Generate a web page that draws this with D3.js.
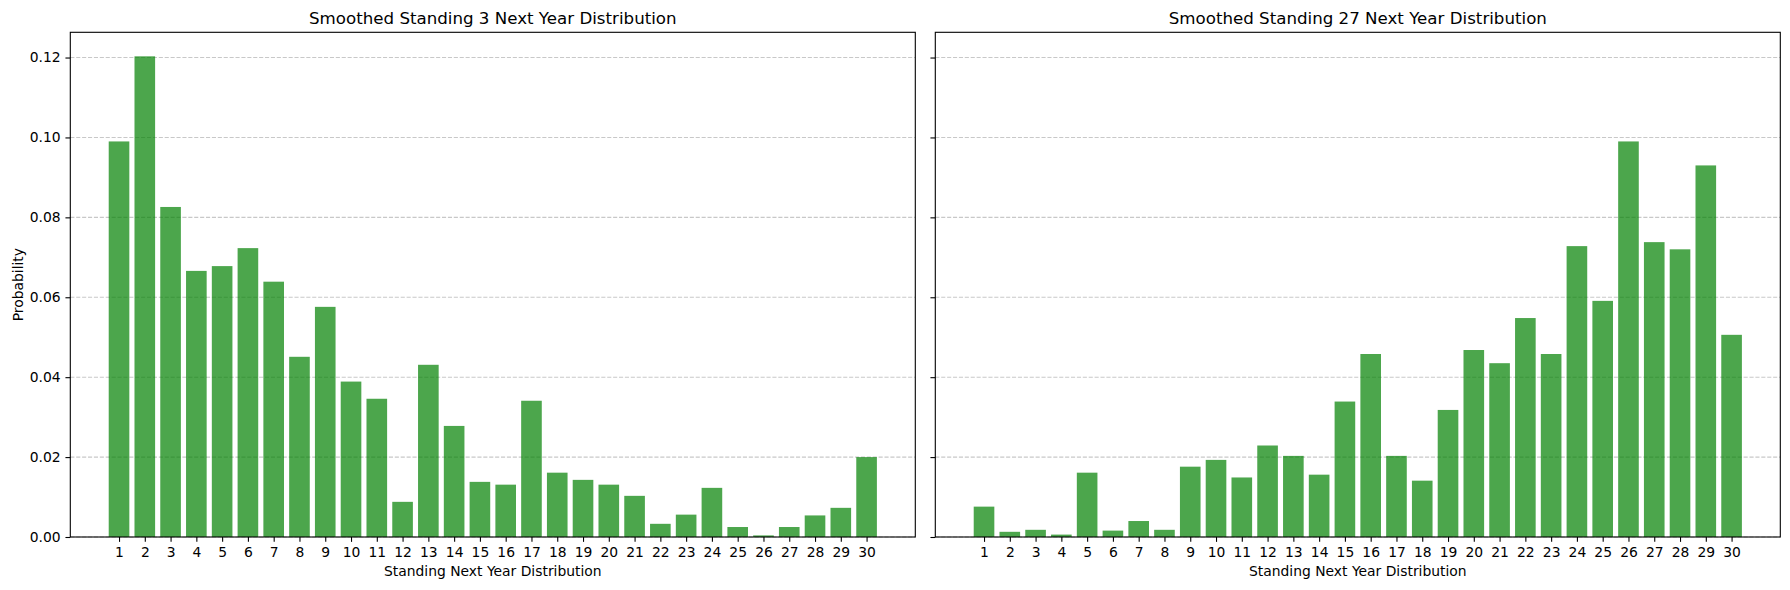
<!DOCTYPE html>
<html>
<head>
<meta charset="utf-8">
<script src="https://cdn.jsdelivr.net/npm/d3@7"></script>
<style>
  html, body { margin: 0; padding: 0; background: #fff; }
  svg { display: block; font-family: "DejaVu Sans", sans-serif; }
</style>
</head>
<body>
<svg id="chart" width="1790" height="590"></svg>
<script>
// ---- data ----
const standings = d3.range(1, 31);
const yTicks = [0.00, 0.02, 0.04, 0.06, 0.08, 0.10, 0.12];
const titles = ["Smoothed Standing 3 Next Year Distribution", "Smoothed Standing 27 Next Year Distribution"];
const standing3 = [0.0990, 0.1203, 0.0826, 0.0666, 0.0678, 0.0723, 0.0639, 0.0451, 0.0576, 0.0389,
                   0.0346, 0.0088, 0.0431, 0.0278, 0.0138, 0.0131, 0.0341, 0.0161, 0.0143, 0.0131,
                   0.0103, 0.0033, 0.0056, 0.0123, 0.0025, 0.0004, 0.0025, 0.0054, 0.0073, 0.0200];
const standing27 = [0.0076, 0.0013, 0.0018, 0.0006, 0.0161, 0.0016, 0.0040, 0.0018, 0.0176, 0.0193,
                    0.0149, 0.0229, 0.0203, 0.0156, 0.0339, 0.0458, 0.0203, 0.0141, 0.0318, 0.0468,
                    0.0435, 0.0548, 0.0458, 0.0728, 0.0591, 0.0990, 0.0738, 0.0720, 0.0930, 0.0506];
const xLabel = "Standing Next Year Distribution";
const yLabel = "Probability";

(function () {
  // ---- layout ----
  const svg = d3.select("#chart");
  const panels = [
    { left: 70.3, right: 915.3, values: standing3, title: titles[0], showY: true },
    { left: 935.3, right: 1780.3, values: standing27, title: titles[1], showY: false }
  ];
  const plotTop = 32.3, plotBottom = 537;
  const barW = 0.8;
  const n = standings.length;
  const xPad = (n - 1 + barW) * 0.05;
  const xDomain = [1 - barW / 2 - xPad, n + barW / 2 + xPad];
  const yMax = d3.max(standing3.concat(standing27)) * 1.05;
  const y = d3.scaleLinear().domain([0, yMax]).range([plotBottom, plotTop]);

  const tickFont = "13.89px";
  const tickLen = 4.86;

  panels.forEach(p => {
    const x = d3.scaleLinear().domain(xDomain).range([p.left, p.right]);
    const g = svg.append("g");

    // grid (below bars)
    g.append("g").selectAll("line").data(yTicks).join("line")
      .attr("x1", p.left).attr("x2", p.right)
      .attr("y1", d => y(d)).attr("y2", d => y(d))
      .attr("stroke", "#b0b0b0").attr("stroke-opacity", 0.7)
      .attr("stroke-width", 1.1).attr("stroke-dasharray", "4.1,1.8");

    // bars
    g.append("g").selectAll("rect").data(p.values).join("rect")
      .attr("x", (d, i) => x(standings[i] - barW / 2))
      .attr("width", (d, i) => x(standings[i] + barW / 2) - x(standings[i] - barW / 2))
      .attr("y", d => y(d))
      .attr("height", d => y(0) - y(d))
      .attr("fill", "#008000").attr("fill-opacity", 0.7);

    // x axis
    const xa = g.append("g").attr("transform", `translate(0,${plotBottom})`)
      .call(d3.axisBottom(x).tickValues(standings).tickFormat(d3.format("d"))
        .tickSizeInner(tickLen).tickSizeOuter(0).tickPadding(4.86));
    xa.select(".domain").remove();
    xa.selectAll("line").attr("stroke", "#000").attr("stroke-width", 1.1);
    xa.selectAll("text").attr("font-size", tickFont).attr("fill", "#000")
      .attr("font-family", "DejaVu Sans").attr("dy", "0.71em");

    // y axis
    const ya = g.append("g").attr("transform", `translate(${p.left},0)`)
      .call(d3.axisLeft(y).tickValues(yTicks).tickFormat(p.showY ? d3.format(".2f") : () => "")
        .tickSizeInner(tickLen).tickSizeOuter(0).tickPadding(4.86));
    ya.select(".domain").remove();
    ya.selectAll("line").attr("stroke", "#000").attr("stroke-width", 1.1);
    ya.selectAll("text").attr("font-size", tickFont).attr("fill", "#000")
      .attr("font-family", "DejaVu Sans");

    // frame
    g.append("rect").attr("x", p.left).attr("y", plotTop)
      .attr("width", p.right - p.left).attr("height", plotBottom - plotTop)
      .attr("fill", "none").attr("stroke", "#000").attr("stroke-width", 1.1);

    // title
    g.append("text").attr("x", (p.left + p.right) / 2).attr("y", 24)
      .attr("text-anchor", "middle").attr("font-size", "16.67px").attr("fill", "#000")
      .text(p.title);

    // x label
    g.append("text").attr("x", (p.left + p.right) / 2).attr("y", 576.4)
      .attr("text-anchor", "middle").attr("font-size", tickFont).attr("fill", "#000")
      .text(xLabel);

    if (p.showY) {
      g.append("text")
        .attr("transform", `translate(23.3,${(plotTop + plotBottom) / 2}) rotate(-90)`)
        .attr("text-anchor", "middle").attr("font-size", tickFont).attr("fill", "#000")
        .text(yLabel);
    }
  });
})();
</script>
</body>
</html>
